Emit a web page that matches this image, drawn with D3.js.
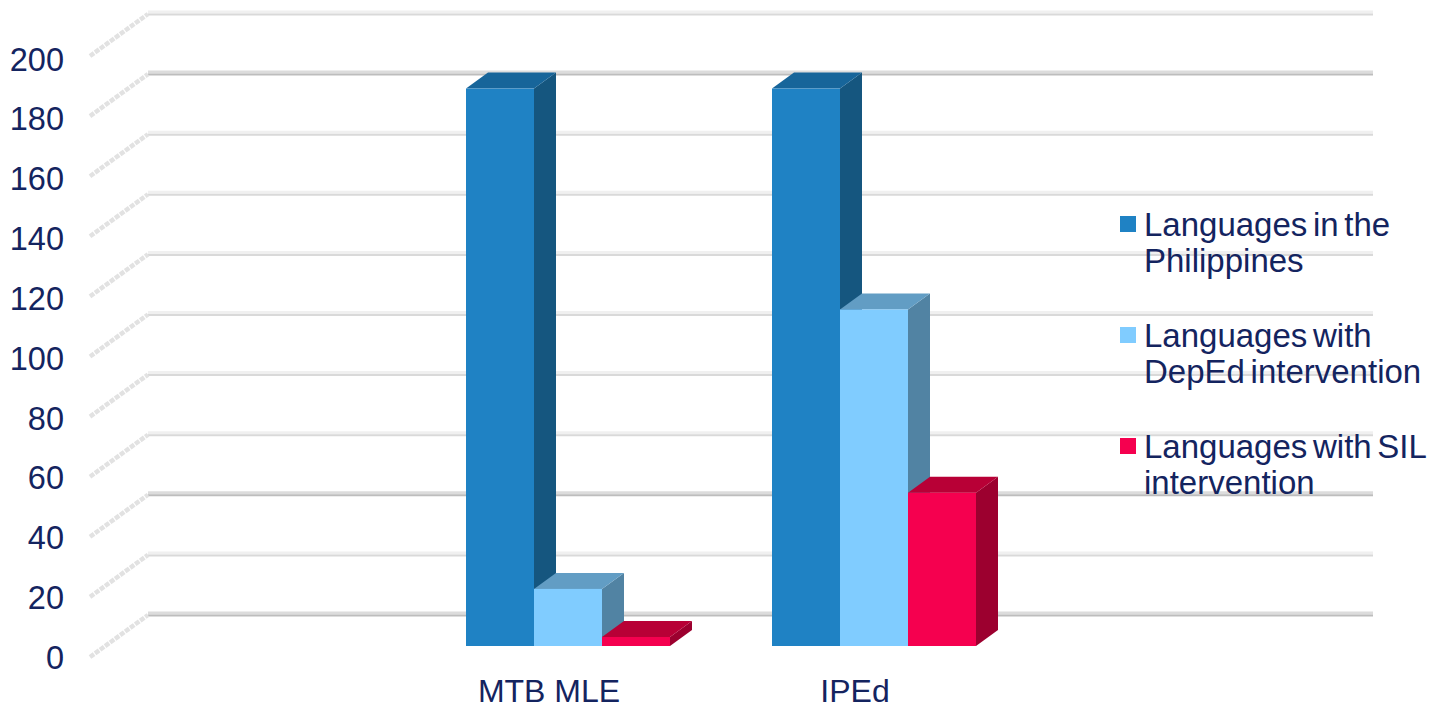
<!DOCTYPE html>
<html>
<head>
<meta charset="utf-8">
<script src="https://cdn.jsdelivr.net/npm/d3@7/dist/d3.min.js"></script>
<style>
html,body{margin:0;padding:0;background:#fff;}
svg{display:block;}
text{font-family:"Liberation Sans",Arial,sans-serif;fill:#14245f;}
</style>
</head>
<body>
<svg id="chart" width="1429" height="709"></svg>
<script>
// Language coverage by programme
const categories = ["", "MTB MLE", "IPEd", " "];
const seriesNames = ["Languages in the Philippines", "Languages with DepEd intervention", "Languages with SIL intervention"];
const philippines = [null, 185.5, 185.5, null];
const deped = [null, 19, 112, null];
const sil = [null, 3, 51, null];
const tickValues = [0, 20, 40, 60, 80, 100, 120, 140, 160, 180, 200];
const legendLines = [["Languages in the", "Philippines"], ["Languages with", "DepEd intervention"], ["Languages with SIL", "intervention"]];
const frontColors = ["#1f82c4", "#80ccff", "#f5004f"];
const topColors = ["#17659a", "#629dc4", "#b80036"];
const sideColors = ["#15567f", "#5183a3", "#9c002f"];
// Gridlines that render heavier than their neighbours
const heavyTicks = [0, 40, 180];

const svg = d3.select("#chart");
const y = d3.scaleLinear().domain([0, 200]).range([646, 45]);
const labelY = d3.scaleLinear().domain([0, 200]).range([669, 70.5]);
const x = d3.scaleBand().domain(categories).range([90, 1314]);
const depth = {wallX: 58, wallY: 42, wallEnd: 1373, frontY: 11, barX: 22, barY: 16, shift: 19};
const columns = d3.scaleBand().domain(d3.range(3)).range([-102, 102]);

// Back wall gridlines and the dashed floor-side edges
const grid = svg.append("g");
tickValues.forEach(v => {
  const yBack = y(v) + depth.frontY - depth.wallY;
  const yFront = y(v) + depth.frontY;
  const heavy = heavyTicks.includes(v);
  const left = x.range()[0] + depth.wallX;
  grid.append("line").attr("x1", left).attr("x2", depth.wallEnd)
    .attr("y1", yBack - 2).attr("y2", yBack - 2).attr("stroke", heavy ? "#dcdcdc" : "#f0f0f0").attr("stroke-width", 3);
  grid.append("line").attr("x1", left).attr("x2", depth.wallEnd)
    .attr("y1", yBack + 0.5).attr("y2", yBack + 0.5).attr("stroke", heavy ? "#bdbdbd" : "#d9d9d9").attr("stroke-width", 2);
  grid.append("line").attr("x1", x.range()[0]).attr("x2", left)
    .attr("y1", yFront).attr("y2", yBack).attr("stroke", "#e2e2e2").attr("stroke-width", 4.5).attr("stroke-dasharray", "5 1.2");
});

// Value axis labels
svg.append("g").selectAll("text").data(tickValues).join("text")
  .attr("x", 64).attr("y", v => labelY(v))
  .attr("text-anchor", "end").attr("font-size", 32.5).text(v => v);

// Category labels
svg.append("g").selectAll("text").data(categories.filter(c => c.trim())).join("text")
  .attr("x", c => x(c) + x.bandwidth() / 2).attr("y", 702)
  .attr("text-anchor", "middle").attr("font-size", 32).text(c => c);

// Extruded columns, painted left to right within each category
[philippines, deped, sil].forEach((values, s) => {
  const g = svg.append("g");
  categories.forEach((c, i) => {
    const v = values[i];
    if (v == null) return;
    const x0 = x(c) + x.bandwidth() / 2 + depth.shift + columns(s);
    const x1 = x0 + columns.bandwidth();
    const yt = y(v), yb = y(0);
    const dx = depth.barX, dy = depth.barY;
    const poly = pts => pts.map(p => p.join(",")).join(" ");
    g.append("polygon").attr("points", poly([[x1, yt], [x1 + dx, yt - dy], [x1 + dx, yb - dy], [x1, yb]])).attr("fill", sideColors[s]);
    g.append("polygon").attr("points", poly([[x0, yt], [x0 + dx, yt - dy], [x1 + dx, yt - dy], [x1, yt]])).attr("fill", topColors[s]);
    g.append("rect").attr("x", x0).attr("y", yt).attr("width", x1 - x0).attr("height", yb - yt).attr("fill", frontColors[s]);
  });
});

// Legend
const legend = svg.append("g");
legendLines.forEach((lines, s) => {
  const top = 216 + s * 111;
  legend.append("rect").attr("x", 1120).attr("y", top).attr("width", 16).attr("height", 16).attr("fill", frontColors[s]);
  lines.forEach((line, k) => {
    legend.append("text").attr("x", 1144).attr("y", top + 20 + k * 36).attr("font-size", 33).attr("word-spacing", -3.5).text(line);
  });
});
</script>
</body>
</html>
